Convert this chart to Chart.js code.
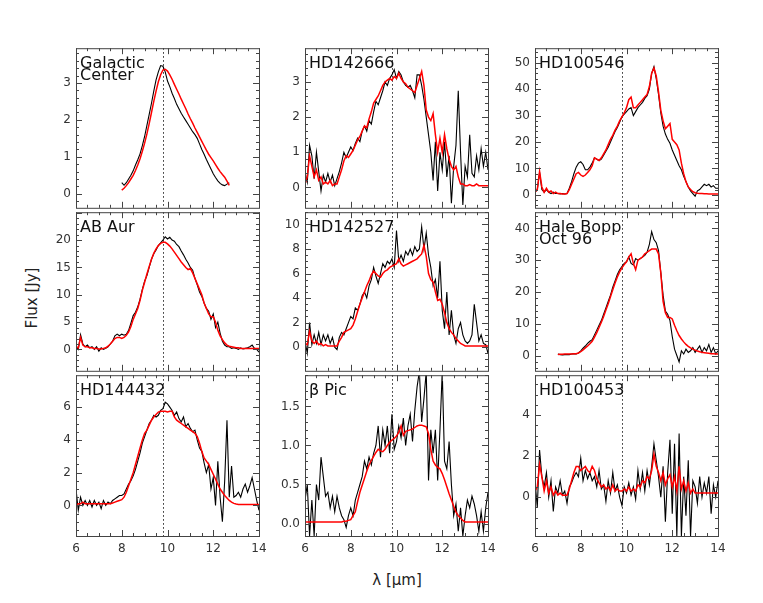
<!DOCTYPE html>
<html>
<head>
<meta charset="utf-8">
<script src="https://cdn.jsdelivr.net/npm/chart.js@4.4.0/dist/chart.umd.min.js"></script>
<style>
  body { margin: 0; background: #fff; width: 763px; height: 603px; position: relative; overflow: hidden; font-family: 'DejaVu Sans', sans-serif; }
  canvas { position: absolute; }
  .title { position: absolute; font-size: 15px; color: #222; white-space: nowrap; }
  #ytitle { left: 32px; top: 298px; transform: translate(-50%, -50%) rotate(-90deg); }
  #xtitle { left: 397px; top: 580px; transform: translate(-50%, -50%); }
</style>
</head>
<body>
<div class="title" id="ytitle">Flux [Jy]</div>
<div class="title" id="xtitle">λ [μm]</div>
<script>
// Wavelength grid (micron), shared by every panel
const WAVE = [
  6.0, 6.1, 6.2, 6.3, 6.4, 6.5, 6.6, 6.7, 6.8, 6.9,
  7.0, 7.1, 7.2, 7.3, 7.4, 7.5, 7.6, 7.7, 7.8, 7.9,
  8.0, 8.1, 8.2, 8.3, 8.4, 8.5, 8.6, 8.7, 8.8, 8.9,
  9.0, 9.1, 9.2, 9.3, 9.4, 9.5, 9.6, 9.7, 9.8, 9.9,
  10.0, 10.1, 10.2, 10.3, 10.4, 10.5, 10.6, 10.7, 10.8, 10.9,
  11.0, 11.1, 11.2, 11.3, 11.4, 11.5, 11.6, 11.7, 11.8, 11.9,
  12.0, 12.1, 12.2, 12.3, 12.4, 12.5, 12.6, 12.7, 12.8, 12.9,
  13.0, 13.1, 13.2, 13.3, 13.4, 13.5, 13.6, 13.7, 13.8, 13.9,
  14.0
];
const X_TICKS = [6, 8, 10, 12, 14];
const DOTTED_AT = 9.8;

// ---- Galactic Center ----
const GC_OBS = [
  null, null, null, null, null, null, null, null, null, null,
  null, null, null, null, null, null, null, null, null, null,
  0.30, 0.23, 0.30, 0.40, 0.50, 0.62, 0.78, 0.92, 1.08, 1.30,
  1.55, 1.85, 2.15, 2.45, 2.78, 3.08, 3.30, 3.47, 3.45, 3.30,
  3.05, 2.90, 2.72, 2.58, 2.42, 2.30, 2.18, 2.08, 1.98, 1.88,
  1.78, 1.68, 1.60, 1.50, 1.35, 1.20, 1.07, 0.93, 0.80, 0.67,
  0.54, 0.44, 0.35, 0.28, 0.24, 0.22, 0.26, 0.30, null, null,
  null, null, null, null, null, null, null, null, null, null,
  null
];
const GC_FIT = [
  null, null, null, null, null, null, null, null, null, null,
  null, null, null, null, null, null, null, null, null, null,
  0.10, 0.15, 0.22, 0.30, 0.40, 0.50, 0.63, 0.78, 0.95, 1.15,
  1.37, 1.62, 1.90, 2.20, 2.50, 2.78, 3.03, 3.22, 3.35, 3.37,
  3.32, 3.22, 3.10, 2.96, 2.83, 2.70, 2.56, 2.43, 2.30, 2.16,
  2.03, 1.91, 1.78, 1.66, 1.54, 1.42, 1.30, 1.18, 1.07, 0.98,
  0.89, 0.79, 0.69, 0.60, 0.52, 0.45, 0.34, 0.23, null, null,
  null, null, null, null, null, null, null, null, null, null,
  null
];
const GC_YTICKS = [0, 1, 2, 3];

// ---- HD142666 ----
const HD142666_OBS = [
  0.43, 0.15, 1.20, 0.90, 0.25, 1.00, 0.45, -0.10, 0.35, 0.15,
  0.40, 0.15, 0.35, 0.05, 0.25, 0.45, 0.70, 1.00, 0.85, 1.00,
  1.15, 1.05, 1.25, 1.40, 1.30, 1.60, 1.75, 1.60, 1.90, 1.80,
  2.15, 2.45, 2.35, 2.55, 2.75, 3.00, 2.90, 3.10, 3.20, 3.35,
  3.10, 3.30, 3.20, 3.00, 2.90, 2.85, 2.90, 2.75, 2.55, 3.20,
  3.20, 2.90, 2.50, 2.00, 1.50, 1.00, 0.20, 1.30, -0.10, 1.00,
  0.50, 1.30, 0.30, 0.90, -0.45, 0.60, 1.20, 2.75, 1.00, -0.50,
  0.60, 0.30, 1.50, 0.40, 0.30, 0.90, 0.50, 1.10, 0.60, 1.00,
  0.50
];
const HD142666_FIT = [
  0.10, 0.30, 0.90, 0.60, 0.30, 0.50, 0.20, 0.30, 0.10, 0.15,
  0.10, 0.20, 0.05, 0.10, 0.10, 0.30, 0.50, 0.75, 0.90, 0.85,
  0.95, 1.05, 1.20, 1.35, 1.45, 1.60, 1.75, 1.70, 1.95, 2.15,
  2.40, 2.50, 2.60, 2.75, 2.90, 3.00, 3.05, 3.10, 3.05, 3.15,
  3.10, 3.25, 3.10, 3.00, 2.95, 2.85, 2.80, 2.75, 2.70, 2.90,
  3.10, 3.30, 2.90, 2.20, 2.00, 1.90, 2.10, 1.50, 1.00, 1.40,
  1.00, 1.50, 1.10, 0.80, 0.60, 0.50, 0.60, 0.30, 0.10, 0.10,
  0.05, 0.05, 0.08, 0.05, 0.05, 0.10, 0.05, 0.05, 0.05, 0.05,
  0.05
];
const HD142666_YTICKS = [0, 1, 2, 3];

// ---- HD100546 ----
const HD100546_OBS = [
  1.0, 2.0, 8.5, 2.0, 1.0, 2.0, 1.0, 0.5, 1.0, 0.5,
  0.5, 0.3, 0.5, 0.3, 0.5, 2.5, 5.0, 8.0, 10.5, 12.0,
  12.5, 11.5, 9.5, 9.5, 10.5, 12.0, 14.0, 13.5, 13.0, 13.5,
  15.0, 16.5, 18.0, 20.0, 22.0, 24.0, 25.5, 27.5, 29.5, 30.5,
  31.5, 32.5, 33.0, 30.0, 31.5, 33.0, 34.0, 35.0, 36.5, 37.5,
  40.0, 46.0, 48.5, 44.0, 38.0, 31.0, 26.0, 23.0, 21.0, 19.5,
  17.0, 15.0, 13.0, 11.0, 9.5, 7.0, 5.0, 3.0, 1.5, 0.5,
  -0.5, 1.5, 2.0, 3.0, 4.0, 3.5, 4.0, 3.0, 3.5, 2.5,
  2.5
];
const HD100546_FIT = [
  1.0, 2.0, 8.8, 3.0, 1.0, 2.5, 1.0, 1.5, 0.5, 1.0,
  0.5, 0.5, 0.3, 0.3, 0.5, 2.0, 4.0, 6.0, 8.0, 8.5,
  7.5, 7.0, 7.5, 8.5, 9.5, 11.0, 14.0, 13.5, 13.0, 14.0,
  15.5, 17.0, 19.0, 21.0, 22.5, 24.5, 26.0, 28.0, 29.5, 31.0,
  33.0, 36.0, 37.0, 33.0, 33.0, 34.0, 35.0, 36.0, 37.0, 38.0,
  41.0, 46.0, 48.0, 45.0, 39.0, 32.0, 28.0, 25.0, 26.0, 27.0,
  21.0, 20.0, 19.0, 17.0, 12.0, 8.0, 5.0, 3.0, 2.0, 1.2,
  0.8, 0.6, 0.5, 0.5, 0.4, 0.4, 0.3, 0.3, 0.3, 0.3,
  0.3
];
const HD100546_YTICKS = [0, 10, 20, 30, 40, 50];

// ---- AB Aur ----
const ABAUR_OBS = [
  0.5, 0.0, 2.7, 1.0, 0.5, 0.8, 0.3, 0.5, 0.0, 0.5,
  -0.3, 0.3, 0.0, 0.2, 0.5, 1.0, 1.5, 2.5, 2.8, 2.5,
  2.8, 2.6, 2.8, 3.5, 4.8, 6.2, 6.8, 7.8, 9.2, 11.0,
  12.5, 13.5, 15.0, 16.5, 17.5, 18.2, 19.0, 19.5, 20.0, 20.6,
  20.2, 20.5, 20.0, 19.8, 19.2, 18.8, 18.0, 17.3, 16.5, 15.8,
  15.0, 14.5, 13.0, 11.8, 10.5, 9.7, 8.5, 7.5, 7.0, 5.5,
  6.5, 4.0, 5.0, 3.0, 1.5, 0.8, 0.5, 0.5, 0.2, 0.3,
  0.2, 0.0, 0.3, 0.1, 0.2, 0.3, 0.5, 0.8, 0.2, 0.0,
  -0.5
];
const ABAUR_FIT = [
  0.5, 0.3, 2.2, 0.8, 0.5, 0.5, 0.3, 0.3, 0.2, 0.2,
  0.1, 0.1, 0.2, 0.3, 0.6, 1.0, 1.5, 2.0, 2.2, 2.2,
  2.0, 2.2, 2.6, 3.2, 4.2, 5.5, 6.5, 7.5, 9.0, 10.8,
  12.3, 13.8, 15.2, 16.5, 17.6, 18.4, 19.0, 19.4, 19.6, 19.6,
  19.3, 18.9, 18.4, 17.8, 17.2, 16.6, 16.0, 15.5, 15.0, 14.6,
  14.8, 14.0, 13.0, 12.0, 11.0, 10.0, 8.5, 7.5, 6.5, 6.0,
  6.0, 5.0, 3.5, 2.5, 1.8, 1.2, 0.8, 0.6, 0.5, 0.4,
  0.3, 0.3, 0.2, 0.2, 0.2, 0.2, 0.2, 0.2, 0.2, 0.2,
  0.2
];
const ABAUR_YTICKS = [0, 5, 10, 15, 20];

// ---- HD142527 ----
const HD142527_OBS = [
  0.5, -0.5, 2.0, 0.2, 1.0, 0.3, 1.2, 0.2, 1.0, 0.5,
  1.0, 0.3, 0.8, 0.0, -0.2, 0.8, 1.2, 1.0, 1.5, 2.0,
  2.5, 2.3, 3.2, 3.0, 3.5, 4.2, 4.5, 4.0, 5.0, 5.5,
  6.5, 5.8, 5.2, 6.0, 6.8, 6.5, 7.0, 6.8, 7.2, 6.5,
  9.5, 7.0, 7.5, 7.0, 7.8, 7.5, 8.0, 7.5, 8.2, 7.8,
  8.0, 9.8, 8.0, 9.3, 7.5, 6.5, 5.0, 5.5, 4.0, 7.0,
  3.0, 1.5, 4.5, 1.0, 3.0, 1.0, 0.3, 1.5, 2.0, 1.0,
  0.5, 0.3, 0.5, 1.0, 3.5, 2.0, 0.5, 1.0, 0.3, 0.2,
  -0.5
];
const HD142527_FIT = [
  0.3, 0.2, 1.3, 0.5, 0.3, 0.5, 0.2, 0.3, 0.1, 0.2,
  0.1, 0.1, 0.1, 0.1, 0.1, 0.5, 0.8, 1.2, 1.3, 1.4,
  1.5, 1.8, 2.3, 2.9, 3.5, 4.0, 4.5, 5.0, 5.4, 5.9,
  6.2, 6.0, 5.8, 5.7, 6.0, 6.2, 6.3, 6.5, 6.6, 6.7,
  6.8, 7.2, 6.8, 6.6, 6.7, 6.8, 6.9, 7.0, 7.1, 7.2,
  7.4, 7.6, 8.3, 7.4, 6.0, 5.5, 5.3, 4.5, 3.8, 3.9,
  3.5, 2.8, 2.0, 1.5, 1.2, 1.0, 0.7, 0.5, 0.3, 0.2,
  0.1, 0.1, 0.1, 0.1, 0.1, 0.1, 0.1, 0.1, 0.1, 0.1,
  0.1
];
const HD142527_YTICKS = [0, 2, 4, 6, 8, 10];

// ---- Hale Bopp, Oct 96 ----
const HALEBOPP_OBS = [
  null, null, null, null, null, null, null, null, null, null,
  0.5, 0.3, 0.2, 0.3, 0.3, 0.3, 0.5, 0.6, 0.5, 0.8,
  1.5, 2.3, 3.0, 3.8, 4.5, 5.0, 6.5, 8.0, 9.5, 11.0,
  13.0, 15.0, 17.0, 19.0, 21.5, 23.5, 25.5, 27.0, 28.0, 29.0,
  29.5, 31.0, 29.0, 28.5, 30.5, 30.0, 30.5, 31.0, 31.5, 32.5,
  35.0, 39.0, 36.5, 35.5, 33.0, 26.0, 19.0, 14.0, 13.0, 11.0,
  6.0, 2.0, 0.0, -2.0, 1.5, 0.5, 2.0, 1.0, 1.5, 2.5,
  1.0, 2.0, 3.0, 1.0, 2.5, 1.5, 3.5, 1.0, 2.5, 0.5,
  1.5
];
const HALEBOPP_FIT = [
  null, null, null, null, null, null, null, null, null, null,
  0.3, 0.4, 0.4, 0.5, 0.5, 0.5, 0.5, 0.6, 0.6, 0.8,
  1.2, 1.8, 2.4, 3.0, 3.7, 4.5, 5.8, 7.2, 8.8, 10.5,
  12.3, 14.3, 16.3, 18.5, 20.7, 22.8, 24.7, 26.3, 27.6, 28.6,
  29.5, 31.0, 32.0, 29.0, 27.0, 30.0, 30.5, 31.0, 32.0, 32.5,
  33.0, 33.5, 33.5, 33.5, 32.0, 26.0, 17.0, 13.5, 12.0, 12.0,
  11.5, 9.5, 7.8, 6.3, 5.2, 4.3, 3.5, 2.9, 2.4, 2.0,
  1.7, 1.4, 1.2, 1.0, 0.9, 0.8, 0.7, 0.6, 0.6, 0.5,
  0.5
];
const HALEBOPP_YTICKS = [0, 10, 20, 30, 40];

// ---- HD144432 ----
const HD144432_OBS = [
  1.0, -0.3, 0.5, 0.0, 0.3, 0.0, 0.3, -0.1, 0.3, 0.0,
  0.2, -0.2, 0.3, 0.0, 0.2, 0.1, 0.3, 0.4, 0.5, 0.6,
  0.6, 0.7, 1.0, 1.3, 1.5, 1.8, 2.2, 2.7, 3.2, 3.8,
  4.2, 4.6, 5.0, 5.2, 5.5, 5.4, 5.5, 5.8, 5.9, 6.3,
  6.2, 6.0, 5.8, 5.5, 5.7, 5.3, 5.1, 5.4, 4.8, 5.0,
  4.7, 4.5, 4.6, 4.0, 3.5, 3.3, 2.6, 2.0, 2.5, 1.0,
  1.7, 0.0, 2.7, 0.5, -1.0, 1.5, 5.2, 0.5, 2.4, 0.5,
  0.6, 0.8, 0.5, 1.0, 1.3, 0.8, 1.2, 1.7, 1.0, 0.3,
  -0.3
];
const HD144432_FIT = [
  0.0, 0.1, 0.1, 0.2, 0.1, 0.1, 0.1, 0.1, 0.1, 0.1,
  0.1, 0.1, 0.1, 0.1, 0.1, 0.1, 0.15, 0.2, 0.25, 0.3,
  0.35, 0.5, 0.8, 1.2, 1.6, 2.0, 2.5, 3.0, 3.5, 4.0,
  4.4, 4.6, 4.9, 5.2, 5.4, 5.55, 5.7, 5.75, 5.75, 5.75,
  5.7, 5.75, 5.75, 5.4, 5.2, 5.1, 5.0, 4.9, 4.8, 4.7,
  4.6, 4.5, 4.4, 4.2, 3.8, 3.3, 2.9, 2.7, 2.5, 2.2,
  1.9, 1.6, 1.3, 1.0, 0.8, 0.6, 0.45, 0.3, 0.2, 0.12,
  0.08, 0.05, 0.05, 0.05, 0.05, 0.05, 0.05, 0.05, 0.05, 0.05,
  0.05
];
const HD144432_YTICKS = [0, 2, 4, 6];

// ---- beta Pic ----
const BETAPIC_OBS = [
  0.3, 0.5, -0.16, 0.3, -0.16, 0.5, 0.3, 0.85, 0.6, 0.35,
  0.4, 0.2, 0.35, 0.15, 0.35, 0.2, 0.1, 0.05, -0.05, 0.1,
  0.2, 0.1, 0.3, 0.4, 0.5, 0.6, 0.8, 0.7, 0.85, 0.75,
  0.9, 1.0, 1.25, 0.85, 1.2, 1.0, 1.25, 0.9, 1.4, 0.95,
  1.05, 1.25, 1.1, 1.35, 1.0, 1.25, 1.4, 1.05, 1.45, 1.75,
  1.95, 1.3, 1.6, 1.95, 0.55, 1.2, 0.9, 1.2, 0.55, 1.2,
  1.95, 0.8, 0.7, 1.05, 0.5, 0.1, 0.25, -0.1, 0.2, -0.16,
  0.1, 0.3, 0.2, 0.35, 0.25, 0.1, -0.1, 0.15, -0.1, 0.2,
  0.4
];
const BETAPIC_FIT = [
  0.02, 0.02, 0.02, 0.02, 0.02, 0.02, 0.02, 0.02, 0.02, 0.02,
  0.02, 0.02, 0.02, 0.02, 0.02, 0.02, 0.02, 0.03, 0.03, 0.04,
  0.05, 0.1, 0.15, 0.28, 0.4, 0.49, 0.58, 0.67, 0.75, 0.81,
  0.86, 0.91, 0.95, 0.93, 0.92, 0.95, 1.0, 1.04, 1.07, 1.09,
  1.12, 1.17, 1.25, 1.13, 1.18, 1.19, 1.2, 1.21, 1.23, 1.25,
  1.26, 1.26, 1.25, 1.24, 1.15, 0.95, 0.8, 0.75, 0.72, 0.7,
  0.64, 0.56, 0.47, 0.38, 0.3, 0.22, 0.15, 0.1, 0.07, 0.04,
  0.02, 0.02, 0.02, 0.02, 0.02, 0.02, 0.02, 0.02, 0.02, 0.02,
  0.02
];
const BETAPIC_YTICKS = [0, 0.5, 1.0, 1.5];

// ---- HD100453 ----
const HD100453_OBS = [
  0.8, -0.5, 2.3, 1.0, 0.5, 1.2, 0.0, 0.8, -0.7, 0.5,
  0.2, 0.8, 0.1, 0.3, -0.3, 0.5, 0.7, 1.0, 1.2, 1.0,
  1.9, 0.8, 1.3, 0.9, 1.2, 0.8, 1.0, 0.5, 1.3, 0.4,
  0.6, -0.2, 0.8, 0.2, 1.2, 0.3, 0.6, 0.0, -0.4, 0.5,
  0.2, 0.7, 0.1, 0.5, -0.1, 1.3, 0.4, 1.2, 0.3, 1.3,
  0.6, 1.5, 2.6, 1.8, 1.0, 0.0, 1.5, -1.2, 1.2, 2.8,
  -0.8, 2.6, -1.9, 3.1, -1.9, 1.0, -0.9, 1.8, -1.9, 0.8,
  0.5, -0.3, 1.0, 0.0, 0.7, 0.2, 1.0, -0.8, 0.6, 0.0,
  0.8
];
const HD100453_FIT = [
  0.3, 0.5, 1.6, 1.0, 0.3, 0.8, 0.2, 0.5, 0.1, 0.3,
  0.1, 0.2, 0.1, 0.1, 0.1, 0.4, 0.8, 1.2, 1.5, 1.5,
  1.3, 1.4, 1.5, 1.3, 1.2, 1.5, 1.3, 0.9, 0.7, 0.5,
  0.6, 0.4, 0.5, 0.3, 0.6, 0.3, 0.4, 0.3, 0.3, 0.4,
  0.3, 0.5, 0.3, 0.4, 0.3, 0.6, 0.5, 0.8, 0.7, 1.0,
  0.9, 1.3, 2.1, 1.5, 1.2, 0.8, 1.2, 0.6, 0.9, 1.1,
  0.5, 1.0, 0.3, 1.5, 0.4, 0.8, 0.3, 0.7, 0.2, 0.4,
  0.2, 0.2, 0.2, 0.2, 0.2, 0.2, 0.2, 0.2, 0.2, 0.2,
  0.2
];
const HD100453_YTICKS = [0, 2, 4];

// Panel grid on the page
const COL_LEFT = [76, 305, 535];
const ROW_TOP = [46, 210, 373];
const PANEL_W = 183;
const ROW_H = [164, 163, 163];

const panels = [
  { label: ['Galactic', 'Center'], obs: GC_OBS, fit: GC_FIT, yTicks: GC_YTICKS, yMin: -0.38, yMax: 3.94, step: 1, minor: 0.2, dec: 0 },
  { label: ['HD142666'], obs: HD142666_OBS, fit: HD142666_FIT, yTicks: HD142666_YTICKS, yMin: -0.58, yMax: 3.96, step: 1, minor: 0.2, dec: 0 },
  { label: ['HD100546'], obs: HD100546_OBS, fit: HD100546_FIT, yTicks: HD100546_YTICKS, yMin: -4.9, yMax: 55.5, step: 10, minor: 2, dec: 0 },
  { label: ['AB Aur'], obs: ABAUR_OBS, fit: ABAUR_FIT, yTicks: ABAUR_YTICKS, yMin: -3.9, yMax: 25.1, step: 5, minor: 1, dec: 0 },
  { label: ['HD142527'], obs: HD142527_OBS, fit: HD142527_FIT, yTicks: HD142527_YTICKS, yMin: -1.93, yMax: 11.0, step: 2, minor: 0.5, dec: 0 },
  { label: ['Hale Bopp', 'Oct 96'], obs: HALEBOPP_OBS, fit: HALEBOPP_FIT, yTicks: HALEBOPP_YTICKS, yMin: -4.8, yMax: 45.1, step: 10, minor: 2, dec: 0 },
  { label: ['HD144432'], obs: HD144432_OBS, fit: HD144432_FIT, yTicks: HD144432_YTICKS, yMin: -1.87, yMax: 7.95, step: 2, minor: 0.5, dec: 0 },
  { label: ['\u03b2 Pic'], obs: BETAPIC_OBS, fit: BETAPIC_FIT, yTicks: BETAPIC_YTICKS, yMin: -0.16, yMax: 1.9, step: 0.5, minor: 0.1, dec: 1 },
  { label: ['HD100453'], obs: HD100453_OBS, fit: HD100453_FIT, yTicks: HD100453_YTICKS, yMin: -1.89, yMax: 5.94, step: 2, minor: 0.5, dec: 0 }
];

Chart.defaults.font.family = "'DejaVu Sans', sans-serif";

// IDL-style frame: inward ticks on all four sides, dotted marker, panel name
const idlAxes = {
  id: 'idlAxes',
  beforeDatasetsDraw(chart) {
    const { ctx, chartArea: a } = chart;
    const px = Math.round(chart.scales.x.getPixelForValue(DOTTED_AT)) + 0.5;
    ctx.save();
    ctx.strokeStyle = '#222';
    ctx.lineWidth = 1;
    ctx.setLineDash([1.5, 2.5]);
    ctx.beginPath();
    ctx.moveTo(px, a.top);
    ctx.lineTo(px, a.bottom);
    ctx.stroke();
    ctx.restore();
  },
  afterDraw(chart, args, opts) {
    const { ctx, chartArea: a, scales: { x, y } } = chart;
    ctx.save();
    ctx.strokeStyle = '#444';
    ctx.lineWidth = 1;
    ctx.strokeRect(a.left + 0.5, a.top + 0.5, a.right - a.left, a.bottom - a.top);
    ctx.beginPath();
    for (let k = 0; k <= 16; k++) {
      const len = k % 4 === 0 ? 6 : 3;
      const p = Math.round(x.getPixelForValue(6 + k * 0.5)) + 0.5;
      ctx.moveTo(p, a.bottom); ctx.lineTo(p, a.bottom - len);
      ctx.moveTo(p, a.top); ctx.lineTo(p, a.top + len);
    }
    const per = Math.round(opts.step / opts.minor);
    const n0 = Math.ceil(y.min / opts.minor - 1e-9);
    const n1 = Math.floor(y.max / opts.minor + 1e-9);
    for (let n = n0; n <= n1; n++) {
      const len = n % per === 0 ? 6 : 3;
      const p = Math.round(y.getPixelForValue(n * opts.minor)) + 0.5;
      ctx.moveTo(a.left, p); ctx.lineTo(a.left + len, p);
      ctx.moveTo(a.right, p); ctx.lineTo(a.right - len, p);
    }
    ctx.stroke();
    ctx.fillStyle = '#111';
    ctx.font = "16px 'DejaVu Sans'";
    ctx.textBaseline = 'alphabetic';
    opts.label.forEach((t, i) => ctx.fillText(t, a.left + 4, a.top + 20 + i * 12));
    ctx.restore();
  }
};

panels.forEach((p, i) => {
  const col = i % 3, row = Math.floor(i / 3);
  const bottomRow = row === 2;
  const padBottom = bottomRow ? 5 : 10;
  const xAxisH = bottomRow ? 25 : 0;
  const cv = document.createElement('canvas');
  cv.width = 50 + PANEL_W + 15;
  cv.height = 10 + ROW_H[row] + xAxisH + padBottom;
  cv.style.left = (COL_LEFT[col] - 50) + 'px';
  cv.style.top = (ROW_TOP[row] - 10) + 'px';
  document.body.appendChild(cv);

  const tickFont = { size: 12 };
  new Chart(cv, {
    type: 'line',
    data: {
      datasets: [
        {
          data: WAVE.map((w, k) => ({ x: w, y: p.fit[k] })),
          borderColor: '#ff0000',
          borderWidth: 1.5,
          pointRadius: 0,
          order: 0
        },
        {
          data: WAVE.map((w, k) => ({ x: w, y: p.obs[k] })),
          borderColor: '#000000',
          borderWidth: 1.1,
          pointRadius: 0,
          order: 1
        }
      ]
    },
    options: {
      responsive: false,
      animation: false,
      devicePixelRatio: 1,
      events: [],
      layout: { padding: { left: 0, top: 10, right: 15, bottom: padBottom } },
      plugins: {
        legend: { display: false },
        tooltip: { enabled: false },
        idlAxes: { label: p.label, step: p.step, minor: p.minor }
      },
      scales: {
        x: {
          type: 'linear',
          min: 6,
          max: 14,
          display: bottomRow,
          afterFit: s => { s.height = xAxisH; },
          afterBuildTicks: s => { s.ticks = X_TICKS.map(v => ({ value: v })); },
          grid: { display: false, drawTicks: false },
          border: { display: false },
          ticks: { padding: 6, color: '#333', font: tickFont, autoSkip: false, maxRotation: 0 }
        },
        y: {
          type: 'linear',
          min: p.yMin,
          max: p.yMax,
          afterFit: s => { s.width = 50; },
          afterBuildTicks: s => { s.ticks = p.yTicks.map(v => ({ value: v })); },
          grid: { display: false, drawTicks: false },
          border: { display: false },
          ticks: {
            autoSkip: false,
            padding: 5,
            color: '#333',
            font: tickFont,
            callback: v => Number(v).toFixed(p.dec)
          }
        }
      }
    },
    plugins: [idlAxes]
  });
});
</script>
</body>
</html>
